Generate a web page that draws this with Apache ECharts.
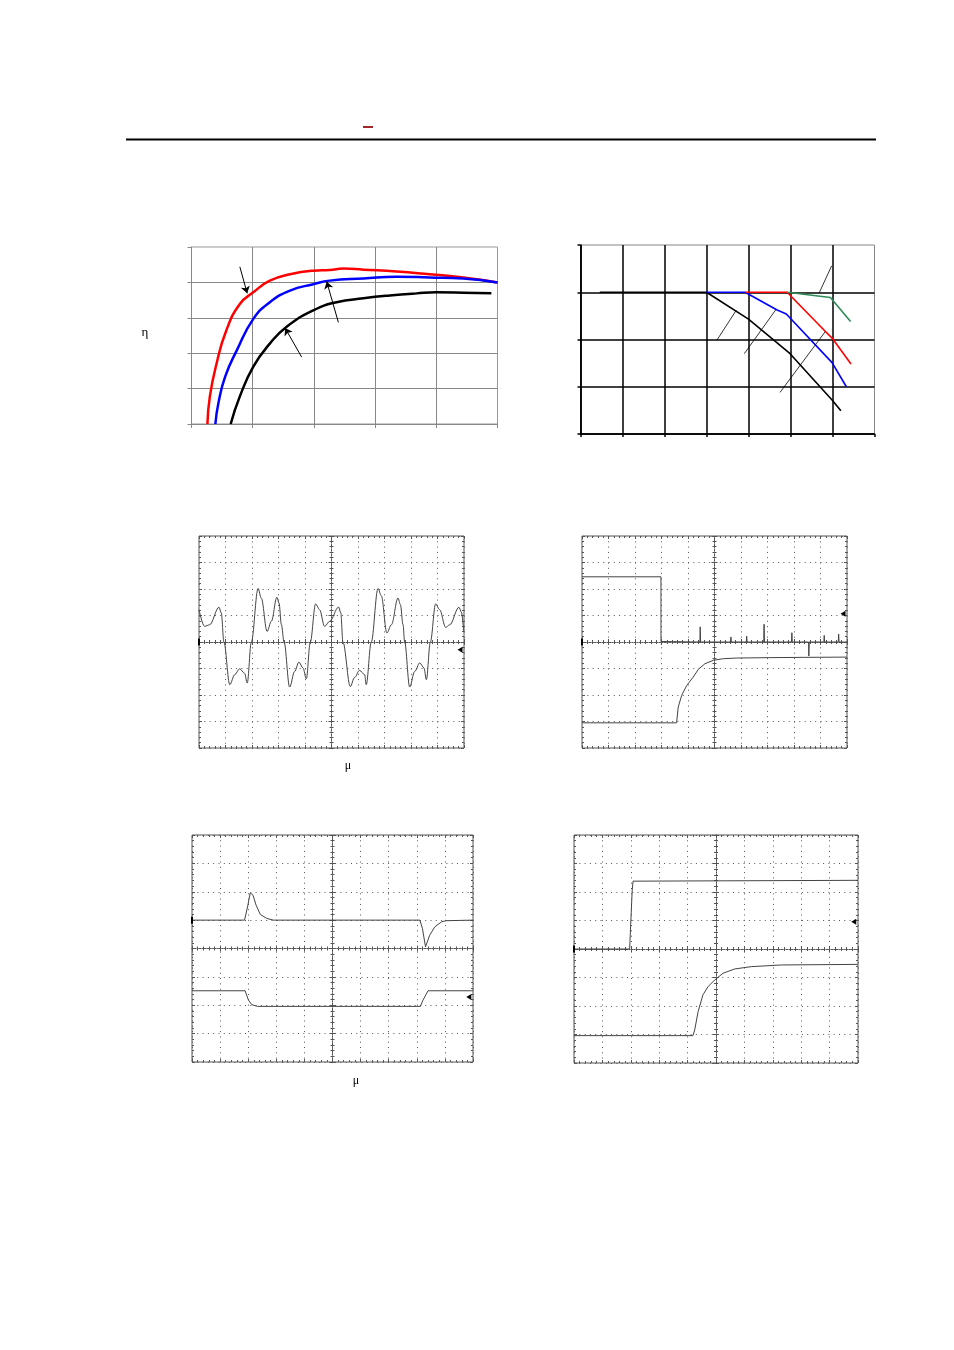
<!DOCTYPE html>
<html><head><meta charset="utf-8">
<script src="https://cdn.jsdelivr.net/npm/echarts@6/dist/echarts.min.js"></script>
<style>html,body{margin:0;padding:0;background:#fff}#c{width:954px;height:1350px}</style>
</head><body><div id="c"></div><script>
// ---------- Chart 1: efficiency curves (x: 0..5 div, y: 0..5 div) ----------
const effRed=[[0.26,0],[0.30,0.78],[0.41,1.71],[0.57,2.65],[0.79,3.39],[1.01,3.72],[1.28,4.05],[1.61,4.23],[1.99,4.33],[2.26,4.35],[2.48,4.39],[2.81,4.36],[3.35,4.31],[3.89,4.23],[4.44,4.14],[5.0,4.0]];
const effBlue=[[0.39,0],[0.44,0.59],[0.55,1.34],[0.74,2.08],[1.01,2.97],[1.28,3.44],[1.61,3.77],[1.99,3.95],[2.26,4.05],[2.81,4.11],[3.35,4.16],[3.89,4.14],[4.44,4.11],[5.0,4.0]];
const effBlack=[[0.64,0],[0.79,0.78],[1.01,1.62],[1.28,2.27],[1.55,2.74],[1.99,3.21],[2.37,3.44],[2.81,3.55],[3.24,3.63],[3.68,3.69],[4.0,3.72],[4.44,3.71],[4.90,3.69]];
const effArrows=[[[0.79,4.44],[0.91,3.69]],[[2.40,2.87],[2.21,4.02]],[[1.80,1.89],[1.53,2.71]]];

// ---------- Chart 2: derating (x: 0..7 div, y: 0..4 div) ----------
const drBlack=[[0.46,3],[3,3],[4,2.43],[4.99,1.70],[5.99,0.72],[6.2,0.49]];
const drBlue=[[3,3],[3.92,3],[4.67,2.63],[4.9,2.54],[5.99,1.51],[6.33,1.0]];
const drRed=[[3.92,3],[4.92,3],[5.82,2.18],[5.99,2.03],[6.44,1.48]];
const drGreen=[[4.92,3],[5.95,2.89],[6.43,2.38]];
const drLeaders=[[[3.25,1.99],[3.71,2.62]],[[3.90,1.70],[4.65,2.63]],[[4.75,0.88],[5.83,2.17]],[[5.68,2.98],[5.98,3.56]]];

// ---------- Scope traces (x: 0..10 div, y: -4..4 div) ----------
const wave1=[[0,1.22],[0.21,0.59],[0.40,0.65],[0.755,1.31],[0.84,1.10],[0.94,0],[1.16,-1.61],[1.35,-1.23],[1.535,-1.01],[1.72,-1.18],[1.82,-1.55],[1.975,0],[2.23,2.02],[2.35,1.66],[2.57,0.40],[2.73,0.78],[2.94,1.69],[3.02,1.47],[3.11,0.65],[3.21,0],[3.42,-1.70],[3.61,-1.11],[3.77,-0.76],[3.925,-0.98],[4.05,-1.39],[4.20,0],[4.40,1.44],[4.55,1.22],[4.74,0.59],[4.93,0.78],[5.27,1.32],[5.35,1.10],[5.43,0],[5.71,-1.68],[5.87,-1.34],[6.06,-1.07],[6.25,-1.23],[6.31,-1.61],[6.50,0],[6.755,2.02],[6.88,1.74],[7.09,0.34],[7.26,0.65],[7.51,1.66],[7.60,1.41],[7.70,0.65],[7.76,0],[7.95,-1.70],[8.14,-1.11],[8.33,-0.79],[8.49,-0.98],[8.58,-1.42],[8.73,0],[8.93,1.44],[9.08,1.22],[9.31,0.55],[9.46,0.65],[9.81,1.31],[9.90,1.13],[9.99,0.40]];
const s2Upper=[[0,2.46],[2.98,2.46],[2.98,0.02],[4.45,0],[4.46,0.57],[4.475,0],[5.61,0],[5.62,0.19],[5.635,0],[6.20,0],[6.215,0.22],[6.23,0],[6.86,0],[6.87,0.67],[6.885,0],[7.905,0],[7.92,0.35],[7.935,0],[8.55,0],[8.56,-0.53],[8.575,0],[9.13,0],[9.14,0.25],[9.155,0],[9.67,0],[9.685,0.30],[9.70,0],[10,0]];
const s2Lower=[[0,-3.05],[3.57,-3.05],[3.63,-2.46],[3.76,-2.02],[3.95,-1.64],[4.20,-1.32],[4.39,-1.03],[4.64,-0.82],[4.96,-0.69],[5.33,-0.63],[5.84,-0.605],[7.1,-0.59],[8.36,-0.58],[10,-0.57]];
const s3Upper=[[0,1.0],[1.87,1.0],[1.99,1.53],[2.07,1.96],[2.17,1.88],[2.28,1.53],[2.43,1.2],[2.66,1.06],[2.90,1.0],[8.11,1.0],[8.20,0.71],[8.31,0.06],[8.46,0.47],[8.64,0.76],[8.88,0.94],[9.05,0.98],[10,1.0]];
const s3Lower=[[0,-1.49],[1.89,-1.49],[2.01,-1.82],[2.13,-1.98],[2.33,-2.04],[8.13,-2.04],[8.22,-1.82],[8.40,-1.49],[10,-1.49]];
const s4Upper=[[0,0],[1.96,0],[1.995,0.85],[2.05,2.07],[2.08,2.38],[10,2.41]];
const s4Lower=[[0,-3.04],[4.19,-3.04],[4.25,-2.84],[4.37,-2.2],[4.54,-1.61],[4.72,-1.32],[4.95,-1.09],[5.25,-0.85],[5.66,-0.70],[6.24,-0.62],[7.3,-0.56],[10,-0.54]];
// ground-level / trigger markers: [rightArrowY, leftMarkY]
const s1Marks=[-0.29,0], s2Marks=[1.07,0], s3Marks=[-1.71,1.0], s4Marks=[0.96,0];

const grids=[],xAxes=[],yAxes=[],series=[];
function addGrid(r,border,color){
  grids.push({left:r.l,top:r.t,width:r.w,height:r.h,show:!!border,borderColor:color||'#888',borderWidth:1,backgroundColor:'transparent',outerBoundsMode:'none',containLabel:false});
  return grids.length-1;
}
const noLabel={show:false};
// Chart 1
(function(){
  const g=addGrid({l:191.5,t:247,w:306,h:177},true,'#999');
  const ax={gridIndex:g,type:'value',axisLabel:noLabel,
    axisLine:{show:true,onZero:false,lineStyle:{color:'#888',width:1}},
    axisTick:{show:true,length:4,lineStyle:{color:'#888'}},
    splitLine:{show:true,showMaxLine:false,lineStyle:{color:'#888',width:1}}};
  const xi=xAxes.length; xAxes.push({...ax,min:0,max:5,interval:1});
  const yi=yAxes.length; yAxes.push({...ax,min:0,max:5,interval:1});
  const mk=(d,c,extra)=>Object.assign({type:'line',xAxisIndex:xi,yAxisIndex:yi,data:d,symbol:'none',smooth:0.5,silent:true,
    lineStyle:{color:c,width:2.5}},extra||{});
  series.push(mk(effRed,'#ff0000'));
  series.push(mk(effBlue,'#0000ff'));
  series.push(mk(effBlack,'#000000',{markLine:{silent:true,symbol:['none','arrow'],symbolSize:7,animation:false,
    label:{show:false},lineStyle:{color:'#000',width:1,type:'solid'},
    data:effArrows.map(a=>[{coord:a[0]},{coord:a[1]}])}}));
})();
// Chart 2
(function(){
  const g=addGrid({l:580.5,t:245,w:294,h:189},true,'#888');
  const ax={gridIndex:g,type:'value',axisLabel:noLabel,
    axisLine:{show:true,onZero:false,lineStyle:{color:'#000',width:1.5}},
    axisTick:{show:true,length:3,lineStyle:{color:'#000',width:1.5}},
    splitLine:{show:true,showMaxLine:false,lineStyle:{color:'#000',width:1.5}}};
  const xi=xAxes.length; xAxes.push({...ax,min:0,max:7,interval:1});
  const yi=yAxes.length; yAxes.push({...ax,min:0,max:4,interval:1});
  const mk=(d,c,extra)=>Object.assign({type:'line',xAxisIndex:xi,yAxisIndex:yi,data:d,symbol:'none',silent:true,
    lineStyle:{color:c,width:1.6}},extra||{});
  series.push(mk(drBlack,'#000000',{markLine:{silent:true,symbol:['none','none'],animation:false,
    label:{show:false},lineStyle:{color:'#000',width:0.8,type:'solid'},
    data:drLeaders.map(a=>[{coord:a[0]},{coord:a[1]}])}}));
  series.push(mk(drBlue,'#0000ff'));
  series.push(mk(drRed,'#ff0000'));
  series.push(mk(drGreen,'#2e8b57'));
})();
// Oscilloscope frames
const dotted={color:'#555',width:1,type:[1,4.3]};
function scope(r,traces,marks,smooth){
  const g=addGrid(r,true,'#555');
  const base={gridIndex:g,type:'value',axisLabel:noLabel,axisLine:{show:false,onZero:false},
    axisTick:{show:true,inside:true,length:3,lineStyle:{color:'#555'}},
    minorTick:{show:true,splitNumber:5,length:2,lineStyle:{color:'#555'}}};
  const xi=xAxes.length;
  xAxes.push({...base,position:'bottom',min:0,max:10,interval:1,splitLine:{show:true,lineStyle:dotted}});
  xAxes.push({...base,position:'top',min:0,max:10,interval:1,splitLine:{show:false}});
  const yi=yAxes.length;
  yAxes.push({...base,position:'left',min:-4,max:4,interval:1,splitLine:{show:true,lineStyle:dotted}});
  yAxes.push({...base,position:'right',min:-4,max:4,interval:1,splitLine:{show:false}});
  for(const inside of [false,true]){
    const c=addGrid(r,false);
    const cb={gridIndex:c,type:'value',axisLabel:noLabel,
      axisLine:{show:true,onZero:true,lineStyle:{color:'#555',width:1,type:[1,1.5]}},
      axisTick:{show:true,inside:inside,length:3,lineStyle:{color:'#555'}},
      minorTick:{show:true,splitNumber:5,length:2,lineStyle:{color:'#555'}},splitLine:{show:false}};
    xAxes.push({...cb,min:-5,max:5,interval:1});
    yAxes.push({...cb,min:-4,max:4,interval:1});
  }
  traces.forEach((d,i)=>{
    const s={type:'line',xAxisIndex:xi,yAxisIndex:yi,data:d,symbol:'none',silent:true,
      smooth:smooth?0.35:false,smoothMonotone:'x',lineStyle:{color:'#444',width:1}};
    if(i===0){
      s.markPoint={silent:true,animation:false,label:{show:false},
        data:[{coord:[9.85,marks[0]],symbol:'triangle',symbolRotate:90,symbolSize:[6,5],itemStyle:{color:'#000'}},
              {coord:[0,marks[1]],symbol:'rect',symbolSize:[2,7],itemStyle:{color:'#000'}}]};
    }
    series.push(s);
  });
}
scope({l:199,t:536,w:265,h:212},[wave1],s1Marks,true);
scope({l:582,t:536,w:265,h:212},[s2Upper,s2Lower],s2Marks,false);
scope({l:192,t:835,w:281,h:227},[s3Upper,s3Lower],s3Marks,false);
scope({l:574,t:835,w:284,h:228},[s4Upper,s4Lower],s4Marks,false);

const chart=echarts.init(document.getElementById('c'),null,{renderer:'canvas'});
chart.setOption({
  animation:false,backgroundColor:'#fff',
  grid:grids,xAxis:xAxes,yAxis:yAxes,series:series,
  graphic:[
    {type:'line',shape:{x1:126,y1:139.5,x2:876,y2:139.5},style:{stroke:'#000',lineWidth:2},silent:true},
    {type:'rect',shape:{x:363,y:126,width:10,height:2},style:{fill:'#a3282c'},silent:true},
    {type:'text',x:145,y:333,style:{text:'η',font:'13px "Liberation Serif"',fill:'#000',align:'center',verticalAlign:'middle'},silent:true},
    {type:'text',x:348,y:766,style:{text:'μ',font:'12px "Liberation Serif"',fill:'#000',align:'center',verticalAlign:'middle'},silent:true},
    {type:'text',x:356,y:1081,style:{text:'μ',font:'12px "Liberation Serif"',fill:'#000',align:'center',verticalAlign:'middle'},silent:true}
  ]
});
</script></body></html>
